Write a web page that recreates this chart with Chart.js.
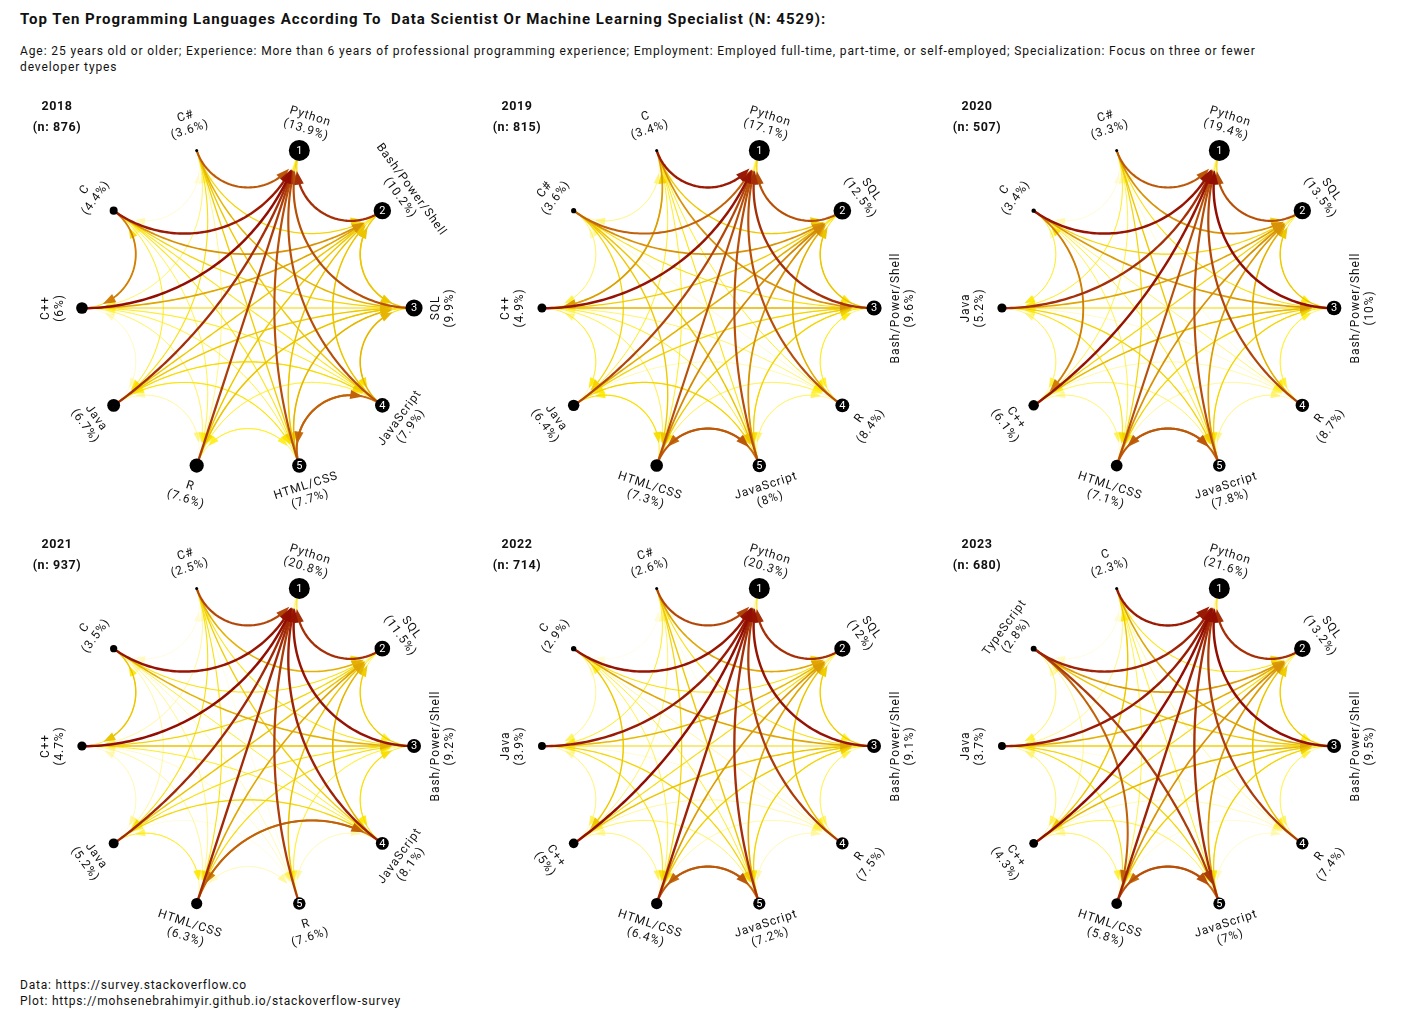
<!DOCTYPE html>
<html>
<head>
<meta charset="utf-8">
<script src="https://cdn.jsdelivr.net/npm/chart.js@4.4.1/dist/chart.umd.min.js"></script>
<style>
  body { margin: 0; background: #fff; font-family: Roboto, "Noto Sans", sans-serif; color: #111; }
  #page { position: relative; width: 1417px; height: 1023px; overflow: hidden; }
  .title { position: absolute; left: 20px; top: 10px; font-size: 15px; font-weight: 700; letter-spacing: 1px; white-space: pre; }
  .sub { position: absolute; left: 20px; top: 43px; font-size: 12px; letter-spacing: 0.9px; line-height: 16px; white-space: nowrap; }
  .panel { position: absolute; }
  .foot { position: absolute; left: 20px; top: 977px; font-size: 12px; letter-spacing: 0.8px; line-height: 16px; }
</style>
</head>
<body>
<div id="page">
  <div class="title">Top Ten Programming Languages According To  Data Scientist Or Machine Learning Specialist (N: 4529):</div>
  <div class="sub">Age: 25 years old or older; Experience: More than 6 years of professional programming experience; Employment: Employed full-time, part-time, or self-employed; Specialization: Focus on three or fewer<br>developer types</div>
  <div class="foot">Data: https://survey.stackoverflow.co<br>Plot: https://mohsenebrahimyir.github.io/stackoverflow-survey</div>
</div>
<script>
// ---- data (languages in rank order, share of mentions, % of row users also using column) ----
const years = ["2018", "2019", "2020", "2021", "2022", "2023"];
const respondents = [876, 815, 507, 937, 714, 680];

const langs2018 = ["Python", "Bash/Power/Shell", "SQL", "JavaScript", "HTML/CSS", "R", "Java", "C++", "C", "C#"];
const share2018 = [13.9, 10.2, 9.9, 7.9, 7.7, 7.6, 6.7, 6, 4.4, 3.6];
const cooc2018 = [
  [0, 55, 55, 40, 40, 45, 35, 33, 25, 18],
  [92, 0, 60, 45, 45, 45, 38, 40, 33, 18],
  [86, 62, 0, 50, 50, 50, 40, 32, 25, 22],
  [86, 62, 65, 0, 80, 40, 45, 35, 28, 28],
  [86, 62, 65, 82, 0, 42, 42, 33, 28, 27],
  [90, 60, 62, 40, 42, 0, 30, 30, 25, 18],
  [92, 60, 60, 52, 48, 35, 0, 30, 30, 30],
  [97, 68, 55, 45, 42, 40, 30, 0, 50, 25],
  [95, 72, 55, 48, 48, 42, 45, 76, 0, 25],
  [84, 55, 65, 60, 58, 38, 50, 40, 30, 0]
];

const langs2019 = ["Python", "SQL", "Bash/Power/Shell", "R", "JavaScript", "HTML/CSS", "Java", "C++", "C#", "C"];
const share2019 = [17.1, 12.5, 9.6, 8.4, 8, 7.3, 6.4, 4.9, 3.6, 3.4];
const cooc2019 = [
  [0, 58, 45, 42, 38, 35, 30, 25, 16, 18],
  [86, 0, 48, 45, 48, 45, 36, 24, 22, 18],
  [92, 62, 0, 40, 48, 45, 38, 35, 20, 30],
  [86, 66, 45, 0, 36, 34, 26, 25, 15, 20],
  [86, 72, 55, 38, 0, 80, 45, 30, 30, 22],
  [86, 74, 58, 40, 84, 0, 44, 30, 30, 24],
  [88, 66, 55, 34, 55, 50, 0, 35, 32, 26],
  [96, 58, 65, 40, 45, 42, 45, 0, 30, 55],
  [82, 72, 50, 32, 62, 60, 55, 40, 0, 35],
  [95, 60, 72, 45, 48, 45, 45, 70, 35, 0]
];

const langs2020 = ["Python", "SQL", "Bash/Power/Shell", "R", "JavaScript", "HTML/CSS", "C++", "Java", "C", "C#"];
const share2020 = [19.4, 13.5, 10, 8.7, 7.8, 7.1, 6.1, 5.2, 3.4, 3.3];
const cooc2020 = [
  [0, 55, 45, 40, 33, 30, 30, 24, 17, 15],
  [86, 0, 45, 45, 42, 40, 26, 28, 15, 18],
  [97, 60, 0, 40, 45, 42, 42, 33, 28, 18],
  [88, 66, 42, 0, 34, 30, 25, 20, 15, 12],
  [86, 70, 55, 36, 0, 82, 30, 40, 22, 26],
  [86, 72, 55, 35, 84, 0, 32, 36, 24, 25],
  [96, 55, 64, 35, 40, 38, 0, 35, 48, 25],
  [92, 68, 55, 32, 55, 48, 40, 0, 30, 30],
  [96, 55, 70, 40, 45, 42, 76, 45, 0, 25],
  [84, 72, 50, 30, 60, 55, 42, 45, 30, 0]
];

const langs2021 = ["Python", "SQL", "Bash/Power/Shell", "JavaScript", "R", "HTML/CSS", "Java", "C++", "C", "C#"];
const share2021 = [20.8, 11.5, 9.2, 8.1, 7.6, 6.3, 5.2, 4.7, 3.5, 2.5];
const cooc2021 = [
  [0, 50, 40, 32, 34, 25, 22, 20, 15, 11],
  [92, 0, 42, 45, 42, 38, 28, 22, 15, 15],
  [96, 58, 0, 45, 38, 36, 30, 35, 28, 14],
  [94, 65, 50, 0, 32, 75, 38, 28, 22, 20],
  [90, 62, 42, 30, 0, 28, 20, 20, 15, 10],
  [93, 68, 52, 82, 33, 0, 38, 28, 22, 20],
  [93, 62, 50, 55, 28, 45, 0, 30, 25, 25],
  [97, 55, 62, 45, 32, 36, 32, 0, 45, 20],
  [96, 50, 66, 45, 34, 38, 36, 62, 0, 20],
  [88, 66, 48, 58, 28, 50, 50, 36, 28, 0]
];

const langs2022 = ["Python", "SQL", "Bash/Power/Shell", "R", "JavaScript", "HTML/CSS", "C++", "Java", "C", "C#"];
const share2022 = [20.3, 12, 9.1, 7.5, 7.2, 6.4, 5, 3.9, 2.9, 2.6];
const cooc2022 = [
  [0, 50, 38, 33, 30, 26, 22, 17, 13, 11],
  [92, 0, 42, 42, 42, 38, 22, 22, 12, 15],
  [96, 58, 0, 36, 46, 42, 38, 28, 25, 15],
  [90, 62, 40, 0, 30, 28, 22, 16, 12, 10],
  [92, 68, 55, 32, 0, 80, 30, 36, 20, 22],
  [94, 70, 58, 34, 84, 0, 32, 34, 22, 22],
  [97, 52, 62, 36, 40, 38, 0, 32, 42, 22],
  [95, 64, 54, 30, 55, 48, 38, 0, 25, 30],
  [96, 50, 68, 36, 45, 42, 60, 38, 0, 22],
  [88, 68, 50, 28, 60, 55, 40, 45, 25, 0]
];

const langs2023 = ["Python", "SQL", "Bash/Power/Shell", "R", "JavaScript", "HTML/CSS", "C++", "Java", "TypeScript", "C"];
const share2023 = [21.6, 13.2, 9.5, 7.4, 7, 5.8, 4.3, 3.7, 2.8, 2.3];
const cooc2023 = [
  [0, 52, 40, 32, 30, 25, 20, 16, 13, 11],
  [92, 0, 42, 42, 42, 36, 20, 22, 18, 10],
  [97, 58, 0, 36, 46, 40, 36, 28, 25, 22],
  [90, 62, 40, 0, 28, 24, 20, 14, 10, 10],
  [92, 70, 55, 30, 0, 80, 30, 36, 38, 18],
  [94, 72, 58, 30, 86, 0, 32, 34, 36, 20],
  [97, 52, 64, 34, 42, 40, 0, 35, 30, 45],
  [95, 66, 56, 28, 55, 50, 38, 0, 30, 25],
  [94, 70, 60, 25, 90, 82, 36, 40, 0, 20],
  [95, 48, 68, 36, 45, 42, 60, 38, 28, 0]
];

const panels = [
  { langs: langs2018, share: share2018, cooc: cooc2018 },
  { langs: langs2019, share: share2019, cooc: cooc2019 },
  { langs: langs2020, share: share2020, cooc: cooc2020 },
  { langs: langs2021, share: share2021, cooc: cooc2021 },
  { langs: langs2022, share: share2022, cooc: cooc2022 },
  { langs: langs2023, share: share2023, cooc: cooc2023 }
];

// ---- layout / style ----
const PANEL_W = 460, PANEL_H = 438;
const RING_PX = 174;            // ring radius in pixels (1 data unit)
const LABEL_R = 204 / 174;      // label distance in data units
const colCenters = [248, 708, 1168];
const rowCenters = [308, 746];
const W_LO = 25, W_HI = 99;
const END_CAP = 24, ARROW_LEN = 9, ARROW_HALF = 3.2;

const colorStops = [
  [0.00, 255, 246, 150, 0.30],
  [0.25, 255, 236, 0, 0.90],
  [0.50, 236, 196, 0, 1],
  [0.70, 207, 122, 10, 1],
  [0.88, 172, 60, 10, 1],
  [1.00, 139, 0, 0, 1]
];

function edgeColor(t) {
  for (let i = 1; i < colorStops.length; i++) {
    const a = colorStops[i - 1], b = colorStops[i];
    if (t <= b[0]) {
      const f = (t - a[0]) / (b[0] - a[0]);
      const c = [1, 2, 3, 4].map(k => a[k] + (b[k] - a[k]) * f);
      return `rgba(${Math.round(c[0])},${Math.round(c[1])},${Math.round(c[2])},${c[3].toFixed(2)})`;
    }
  }
  return "rgba(139,0,0,1)";
}

function nodeAngle(i) { return (72 - 36 * i) * Math.PI / 180; }

// arc that meets the ring at right angles, bending toward the centre
function arcPoints(O, R, A, B) {
  const a1 = Math.atan2(A.y - O.y, A.x - O.x), a2 = Math.atan2(B.y - O.y, B.x - O.x);
  let phi = Math.abs(a2 - a1);
  if (phi > Math.PI) phi = 2 * Math.PI - phi;
  const pts = [], N = 90;
  if (Math.PI - phi < 1e-3) {
    for (let s = 0; s <= N; s++) pts.push({ x: A.x + (B.x - A.x) * s / N, y: A.y + (B.y - A.y) * s / N });
    return pts;
  }
  const mx = (A.x + B.x) / 2 - O.x, my = (A.y + B.y) / 2 - O.y, ml = Math.hypot(mx, my);
  const d = R / Math.cos(phi / 2), rho = R * Math.tan(phi / 2);
  const C = { x: O.x + mx / ml * d, y: O.y + my / ml * d };
  const b1 = Math.atan2(A.y - C.y, A.x - C.x), b2 = Math.atan2(B.y - C.y, B.x - C.x);
  let D = b2 - b1;
  while (D > Math.PI) D -= 2 * Math.PI;
  while (D < -Math.PI) D += 2 * Math.PI;
  for (let s = 0; s <= N; s++) {
    const ang = b1 + D * s / N;
    pts.push({ x: C.x + rho * Math.cos(ang), y: C.y + rho * Math.sin(ang) });
  }
  return pts;
}

function drawEdge(ctx, O, R, A, B, w) {
  const t = Math.max(0, Math.min(1, (w - W_LO) / (W_HI - W_LO)));
  const col = edgeColor(t), lw = 0.35 + 2.2 * t;
  const pts = arcPoints(O, R, A, B);
  // trim the end so the arrow stops before the target node
  let k = pts.length - 1;
  while (k > 0 && Math.hypot(pts[k].x - B.x, pts[k].y - B.y) < END_CAP) k--;
  const p = pts[k], q = pts[Math.min(k + 1, pts.length - 1)];
  const dp = Math.hypot(p.x - B.x, p.y - B.y), dq = Math.hypot(q.x - B.x, q.y - B.y);
  const f = dp === dq ? 0 : (dp - END_CAP) / (dp - dq);
  const tip = { x: p.x + (q.x - p.x) * f, y: p.y + (q.y - p.y) * f };
  const prev = pts[Math.max(k - 1, 0)];
  let dx = tip.x - prev.x, dy = tip.y - prev.y;
  const dl = Math.hypot(dx, dy) || 1;
  dx /= dl; dy /= dl;
  const base = { x: tip.x - dx * ARROW_LEN, y: tip.y - dy * ARROW_LEN };
  const lineEnd = { x: tip.x - dx * ARROW_LEN * 0.6, y: tip.y - dy * ARROW_LEN * 0.6 };

  ctx.strokeStyle = col;
  ctx.fillStyle = col;
  ctx.lineWidth = lw;
  ctx.lineCap = "butt";
  ctx.beginPath();
  ctx.moveTo(pts[0].x, pts[0].y);
  for (let i = 1; i <= k; i++) {
    if (Math.hypot(pts[i].x - tip.x, pts[i].y - tip.y) < ARROW_LEN * 0.6) break;
    ctx.lineTo(pts[i].x, pts[i].y);
  }
  ctx.lineTo(lineEnd.x, lineEnd.y);
  ctx.stroke();

  ctx.lineJoin = "miter";
  ctx.beginPath();
  ctx.moveTo(tip.x, tip.y);
  ctx.lineTo(base.x - dy * ARROW_HALF, base.y + dx * ARROW_HALF);
  ctx.lineTo(base.x + dy * ARROW_HALF, base.y - dx * ARROW_HALF);
  ctx.closePath();
  ctx.fill();
  ctx.stroke();
}

const networkPlugin = {
  id: "network",
  beforeDatasetsDraw(chart) {
    const { ctx, scales: { x, y } } = chart;
    const p = chart.$panel;
    const O = { x: x.getPixelForValue(0), y: y.getPixelForValue(0) };
    const R = x.getPixelForValue(1) - O.x;
    const pos = p.langs.map((_, i) => ({
      x: x.getPixelForValue(Math.cos(nodeAngle(i))),
      y: y.getPixelForValue(Math.sin(nodeAngle(i)))
    }));
    const edges = [];
    p.cooc.forEach((row, i) => row.forEach((w, j) => { if (i !== j) edges.push({ i, j, w }); }));
    edges.sort((a, b) => a.w - b.w);
    ctx.save();
    edges.forEach(e => drawEdge(ctx, O, R, pos[e.i], pos[e.j], e.w));
    ctx.restore();
  },
  afterDatasetsDraw(chart) {
    const { ctx, scales: { x, y } } = chart;
    const p = chart.$panel;
    ctx.save();
    ctx.textAlign = "center";
    ctx.textBaseline = "middle";
    // year + respondents
    ctx.fillStyle = "#111";
    ctx.font = "bold 12.5px Roboto";
    ctx.letterSpacing = "0.6px";
    ctx.fillText(p.year, 39, 18);
    ctx.fillText(`(n: ${p.n})`, 39, 39);
    // rank numbers in the top five nodes
    ctx.font = "11px Roboto";
    ctx.letterSpacing = "0px";
    ctx.fillStyle = "#fff";
    for (let i = 0; i < 5; i++) {
      ctx.fillText(String(i + 1), x.getPixelForValue(Math.cos(nodeAngle(i))), y.getPixelForValue(Math.sin(nodeAngle(i))) + 0.5);
    }
    // language labels
    ctx.font = "12px Roboto";
    ctx.letterSpacing = "0.9px";
    ctx.fillStyle = "#111";
    p.langs.forEach((name, i) => {
      const th = nodeAngle(i);
      let a = th * 180 / Math.PI - 90;
      while (a <= -90) a += 180;
      const lx = x.getPixelForValue(LABEL_R * Math.cos(th));
      const ly = y.getPixelForValue(LABEL_R * Math.sin(th));
      ctx.save();
      ctx.translate(lx, ly);
      ctx.rotate(-a * Math.PI / 180);
      ctx.fillText(name, 0, -7);
      ctx.fillText(`(${p.share[i]}%)`, 0, 7);
      ctx.restore();
    });
    ctx.restore();
  }
};

const page = document.getElementById("page");
panels.forEach((p, k) => {
  p.year = years[k];
  p.n = respondents[k];
  const cx = colCenters[k % 3], cy = rowCenters[Math.floor(k / 3)];
  const canvas = document.createElement("canvas");
  canvas.className = "panel";
  canvas.width = PANEL_W;
  canvas.height = PANEL_H;
  canvas.style.width = PANEL_W + "px";
  canvas.style.height = PANEL_H + "px";
  canvas.style.left = (cx - PANEL_W / 2) + "px";
  canvas.style.top = (cy - PANEL_H / 2) + "px";
  page.appendChild(canvas);

  const minS = Math.min(...p.share), maxS = Math.max(...p.share);
  const radii = p.share.map(s => 1.5 + 9 * Math.sqrt((s - minS) / (maxS - minS)));
  const nodes = p.langs.map((_, i) => ({ x: Math.cos(nodeAngle(i)), y: Math.sin(nodeAngle(i)) }));

  new Chart(canvas, {
    type: "scatter",
    data: {
      datasets: [{
        data: nodes,
        pointRadius: radii,
        pointHoverRadius: radii,
        pointBackgroundColor: "#000",
        pointBorderWidth: 0,
        clip: false
      }]
    },
    options: {
      responsive: false,
      animation: false,
      events: [],
      layout: { padding: 0 },
      scales: {
        x: { type: "linear", display: false, min: -PANEL_W / 2 / RING_PX, max: PANEL_W / 2 / RING_PX },
        y: { type: "linear", display: false, min: -PANEL_H / 2 / RING_PX, max: PANEL_H / 2 / RING_PX }
      },
      plugins: { legend: { display: false }, tooltip: { enabled: false } }
    },
    plugins: [{ id: "attach", beforeInit(c) { c.$panel = p; } }, networkPlugin]
  });
});
</script>
</body>
</html>
